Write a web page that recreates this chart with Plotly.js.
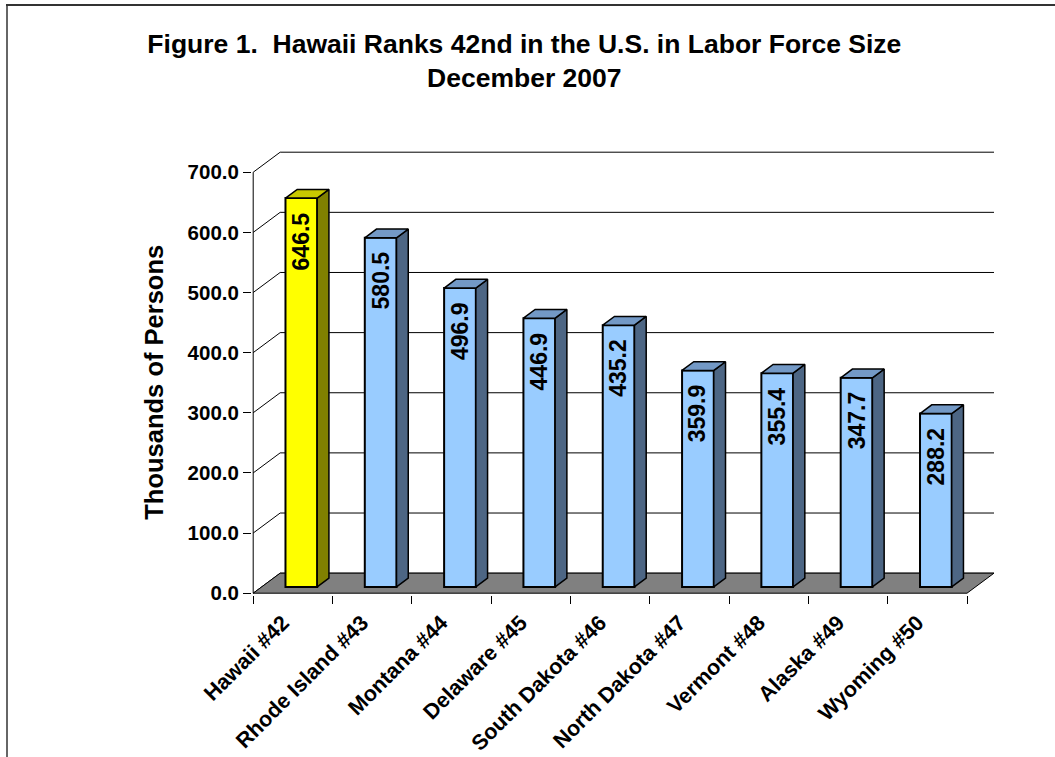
<!DOCTYPE html>
<html><head><meta charset="utf-8">
<script src="https://cdn.plot.ly/plotly-3.0.1.min.js"></script>
<style>html,body{margin:0;padding:0;background:#fff}#chart{width:1055px;height:757px}</style>
</head><body><div id="chart"></div>
<script>
// ---- data ----
const categories = ['Hawaii #42','Rhode Island #43','Montana #44','Delaware #45','South Dakota #46','North Dakota #47','Vermont #48','Alaska #49','Wyoming #50'];
const values = [646.5, 580.5, 496.9, 446.9, 435.2, 359.9, 355.4, 347.7, 288.2];
const yTickValues = [0, 100, 200, 300, 400, 500, 600, 700];
const highlighted = 'Hawaii #42';
const titleText = 'Figure 1.\u00a0 Hawaii Ranks 42nd in the U.S. in Labor Force Size<br>December 2007';
const yTitle = 'Thousands of Persons';

// ---- geometry / style ----
const W = 1055, H = 757;
const M = {l: 252, r: 61, t: 151, b: 162};
const DEPTH_X = 0.34, DEPTH_Y = 33.3;     // depth of the 3-D floor, in axis units
const F1 = 0.315, F2 = 0.75;              // front / back of the bars as share of depth
const BAR_W = 0.4;
const FONT = 'Liberation Sans, Arial, Helvetica, sans-serif';
const n = categories.length;
const idx = categories.map((c, i) => i);
const xLo = -0.5, xHi = n - 0.5;
const yMax = yTickValues[yTickValues.length - 1];
const xRange = [xLo - 0.015, xHi + DEPTH_X];
const yRange = [-3, yMax + DEPTH_Y + 2];

const colors = {
  hi:  {front: '#ffff00', side: '#808000', top: '#c8c800'},
  std: {front: '#99ccff', side: '#4d6684', top: '#7399c6'}
};
const pal = c => (c === highlighted ? colors.hi : colors.std);

const traces = [];
const bx = idx.map(i => i + F1 * DEPTH_X);
const baseY = F1 * DEPTH_Y;
traces.push({
  type: 'bar', x: bx, y: values, base: baseY, width: BAR_W,
  marker: {color: categories.map(c => pal(c).front), line: {color: '#000', width: 2}},
  hoverinfo: 'skip', showlegend: false
});
const ddx = (F2 - F1) * DEPTH_X, ddy = (F2 - F1) * DEPTH_Y;
categories.forEach((c, i) => {
  const xl = bx[i] - BAR_W / 2, xr = bx[i] + BAR_W / 2;
  const top = values[i] + baseY;
  traces.push({
    type: 'scatter', mode: 'lines', fill: 'toself', fillcolor: pal(c).side,
    x: [xr, xr, xr + ddx, xr + ddx, xr], y: [baseY, top, top + ddy, baseY + ddy, baseY],
    line: {color: '#000', width: 1.5}, hoverinfo: 'skip', showlegend: false
  });
  traces.push({
    type: 'scatter', mode: 'lines', fill: 'toself', fillcolor: pal(c).top,
    x: [xl, xr, xr + ddx, xl + ddx, xl], y: [top, top, top + ddy, top + ddy, top],
    line: {color: '#000', width: 1.5}, hoverinfo: 'skip', showlegend: false
  });
});
// invisible trace carrying the category label axis
traces.push({type: 'scatter', mode: 'markers', x: [idx[0]], y: [0], xaxis: 'x2', yaxis: 'y',
  marker: {opacity: 0}, hoverinfo: 'skip', showlegend: false});

// ---- shapes: floor, walls, y axis line ----
const shapes = [];
yTickValues.forEach(v => {
  shapes.push({type: 'path', layer: 'below', xref: 'x', yref: 'y',
    path: `M ${xLo},${v} L ${xLo + DEPTH_X},${v + DEPTH_Y} L ${xHi + DEPTH_X},${v + DEPTH_Y}`,
    line: {color: '#000', width: 1}});
});
shapes.push({type: 'path', layer: 'below', xref: 'x', yref: 'y',
  path: `M ${xLo},0 L ${xHi},0 L ${xHi + DEPTH_X},${DEPTH_Y} L ${xLo + DEPTH_X},${DEPTH_Y} Z`,
  fillcolor: '#808080', line: {color: '#000', width: 1}});
shapes.push({type: 'line', layer: 'above', xref: 'x', yref: 'y', x0: xLo, x1: xLo, y0: 0, y1: yMax,
  line: {color: '#000', width: 1}});
// outer frame (top and left)
const pw = W - M.l - M.r, ph = H - M.t - M.b;
const px2x = p => (p - M.l) / pw, py2y = p => (H - M.b - p) / ph;
shapes.push({type: 'line', xref: 'paper', yref: 'paper', x0: px2x(6), x1: px2x(1056), y0: py2y(5), y1: py2y(5), line: {color: '#333', width: 2}});
shapes.push({type: 'line', xref: 'paper', yref: 'paper', x0: px2x(7), x1: px2x(7), y0: py2y(5), y1: py2y(760), line: {color: '#333', width: 1.5}});

// ---- value labels ----
const annotations = values.map((v, i) => ({
  x: bx[i], y: v + baseY, xref: 'x', yref: 'y', text: v.toFixed(1), showarrow: false,
  textangle: -90, xanchor: 'center', yanchor: 'top', yshift: -12,
  font: {family: FONT, size: 23, color: '#000', weight: 'bold'}
}));
// y-axis title, centred on the front value scale
annotations.push({
  x: px2x(154), xref: 'paper', y: yMax / 2, yref: 'y', text: yTitle, showarrow: false,
  textangle: -90, xanchor: 'center', yanchor: 'middle',
  font: {family: FONT, size: 25.5, color: '#000', weight: 'bold'}
});

const layout = {
  width: W, height: H, margin: M, paper_bgcolor: '#fff', plot_bgcolor: '#fff', showlegend: false,
  title: {text: titleText, x: 0.497, xref: 'container', xanchor: 'center', y: 1 - 53 / H, yref: 'container', yanchor: 'top',
    font: {family: FONT, size: 26.5, color: '#000', weight: 'bold'}},
  xaxis: {range: xRange, tickvals: idx.concat([n]).map(i => i - 0.5), ticks: 'outside', ticklen: 8, tickcolor: '#000', tickwidth: 1,
    showticklabels: false, showgrid: false, zeroline: false, showline: false, fixedrange: true},
  xaxis2: {range: xRange, overlaying: 'x', anchor: 'y', side: 'bottom', tickvals: idx, ticktext: categories, tickangle: -45,
    ticks: '', showgrid: false, zeroline: false, showline: false, ticklabelstandoff: 10, ticklabelshift: -10, fixedrange: true,
    tickfont: {family: FONT, size: 21.5, color: '#000', weight: 'bold'}},
  yaxis: {range: yRange, tickvals: yTickValues, tickformat: '.1f', ticks: 'outside', ticklen: 8, tickcolor: '#000', tickwidth: 1,
    showgrid: false, zeroline: false, showline: false, fixedrange: true,
    tickfont: {family: FONT, size: 20.5, color: '#000', weight: 'bold'}},
  shapes: shapes, annotations: annotations, bargap: 0
};
Plotly.newPlot('chart', traces, layout, {displayModeBar: false, staticPlot: true});
</script></body></html>
